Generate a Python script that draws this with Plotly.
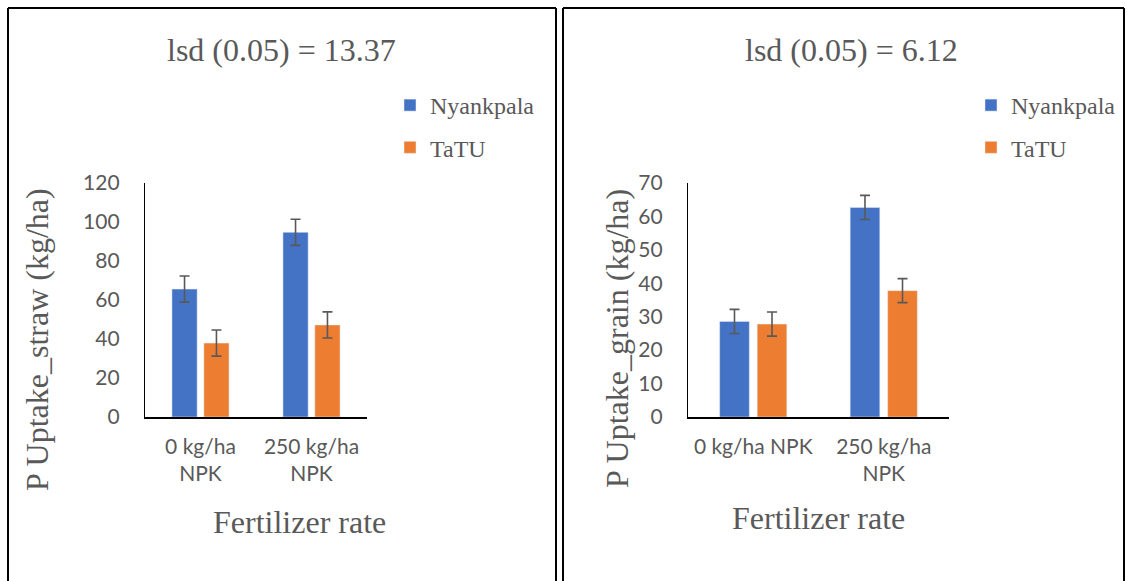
import plotly.graph_objects as go

W, H = 1127, 581

# ---- data ----
cats_straw = ["0 kg/ha<br>NPK", "250 kg/ha<br>NPK"]
cats_grain = ["0 kg/ha NPK", "250 kg/ha<br>NPK"]
straw_nyankpala = [65.6, 94.7]
straw_tatu = [37.9, 47.2]
straw_err = [6.7, 6.7]
grain_nyankpala = [28.6, 62.7]
grain_tatu = [27.8, 37.8]
grain_err = [3.6, 3.6]
title_straw = "lsd (0.05) = 13.37"
title_grain = "lsd (0.05) = 6.12"
ytitle_straw = "P Uptake_straw (kg/ha)"
ytitle_grain = "P Uptake_grain (kg/ha)"
xtitle = "Fertilizer rate"

BLUE = "#4472C4"
ORANGE = "#ED7D31"
GREY = "#595959"
SERIF = "Liberation Serif"
SANS = "Lato"


def X(px):
    return px / W


def Y(py):
    return 1 - py / H


def err(vals):
    return dict(type="data", array=vals, visible=True, color=GREY, thickness=1.6, width=5)


fig = go.Figure()
fig.add_trace(go.Bar(x=cats_straw, y=straw_nyankpala, name="Nyankpala", marker_color=BLUE,
                     error_y=err(straw_err), xaxis="x", yaxis="y", legend="legend", legendgroup="a"))
fig.add_trace(go.Bar(x=cats_straw, y=straw_tatu, name="TaTU", marker_color=ORANGE,
                     error_y=err(straw_err), xaxis="x", yaxis="y", legend="legend", legendgroup="b"))
fig.add_trace(go.Bar(x=cats_grain, y=grain_nyankpala, name="Nyankpala", marker_color=BLUE,
                     error_y=err(grain_err), xaxis="x2", yaxis="y2", legend="legend2", legendgroup="c"))
fig.add_trace(go.Bar(x=cats_grain, y=grain_tatu, name="TaTU", marker_color=ORANGE,
                     error_y=err(grain_err), xaxis="x2", yaxis="y2", legend="legend2", legendgroup="d"))

tickfont = dict(family=SANS, size=21, color=GREY)
common_x = dict(showgrid=False, zeroline=False, showline=True, linecolor="black", linewidth=1.6,
                ticks="", tickfont=tickfont, ticklabelstandoff=10, fixedrange=True, automargin=False)
common_y = dict(showgrid=False, zeroline=False, showline=True, linecolor="black", linewidth=1.3,
                ticks="", tickfont=tickfont, ticklabelstandoff=20, fixedrange=True, automargin=False)

ydom = [Y(417), Y(183)]
legfont = dict(family=SERIF, size=24, color=GREY)

fig.update_layout(
    width=W, height=H,
    margin=dict(l=0, r=0, t=0, b=0, pad=0, autoexpand=False),
    paper_bgcolor="white", plot_bgcolor="white",
    barmode="group", bargap=0.425, bargroupgap=0.21,
    xaxis=dict(domain=[X(145), X(367)], anchor="y", **common_x),
    yaxis=dict(domain=ydom, anchor="x", range=[0, 120], dtick=20, **common_y),
    xaxis2=dict(domain=[X(688), X(949)], anchor="y2", **common_x),
    yaxis2=dict(domain=ydom, anchor="x2", range=[0, 70], dtick=10, **common_y),
    legend=dict(x=X(390), y=Y(83), xanchor="left", yanchor="top", font=legfont,
                tracegroupgap=8, bgcolor="rgba(0,0,0,0)", itemclick=False),
    legend2=dict(x=X(971), y=Y(83), xanchor="left", yanchor="top", font=legfont,
                 tracegroupgap=8, bgcolor="rgba(0,0,0,0)", itemclick=False),
    showlegend=True,
)

tfont = dict(family=SERIF, size=32, color=GREY)
ann = [
    dict(text=title_straw, x=X(281), y=Y(50)),
    dict(text=title_grain, x=X(851), y=Y(50)),
    dict(text=xtitle, x=X(299), y=Y(522)),
    dict(text=xtitle, x=X(818), y=Y(518)),
    dict(text=ytitle_straw, x=X(37), y=Y(340), textangle=-90),
    dict(text=ytitle_grain, x=X(617), y=Y(339), textangle=-90),
]
for a in ann:
    a.update(xref="paper", yref="paper", showarrow=False, font=tfont,
             xanchor="center", yanchor="middle")
fig.update_layout(annotations=ann)

# panel borders
lines = [
    (8, 8, 556, 8), (8, 8, 8, 581), (556, 8, 556, 581),
    (563, 8, 1124, 8), (563, 8, 563, 581), (1124, 8, 1124, 581),
]
fig.update_layout(shapes=[dict(type="line", xref="paper", yref="paper",
                               x0=X(a), y0=Y(b), x1=X(c), y1=Y(d),
                               line=dict(color="black", width=2)) for a, b, c, d in lines])

fig.write_html("out.html", config={"displayModeBar": False})
